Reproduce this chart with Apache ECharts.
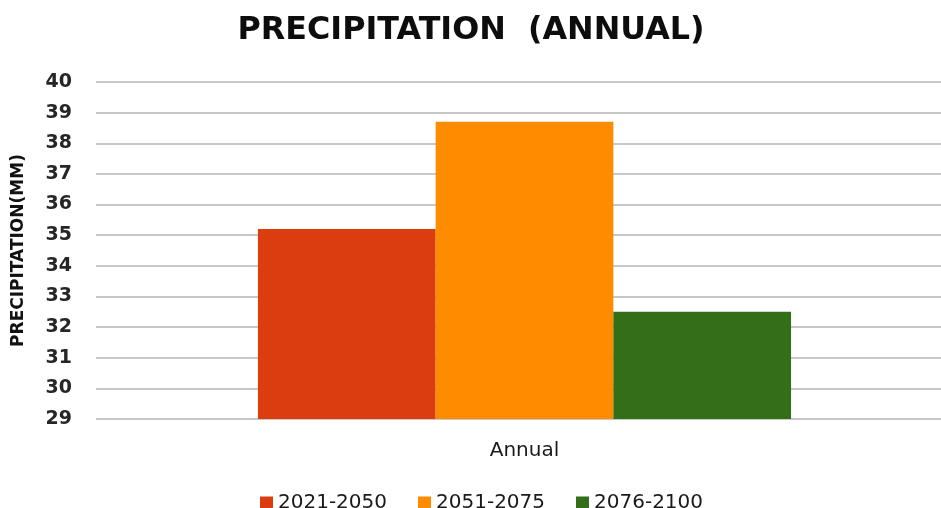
<!DOCTYPE html>
<html><head><meta charset="utf-8">
<script src="https://cdn.jsdelivr.net/npm/echarts@6/dist/echarts.min.js"></script>
<style>html,body{margin:0;padding:0;background:#fff}#c{width:941px;height:508px}</style>
</head><body><div id="c"></div>
<script>
var categories = ['Annual'];
var seriesNames = ['2021-2050', '2051-2075', '2076-2100'];
var values2021 = [35.2];
var values2051 = [38.7];
var values2076 = [32.5];
var yMin = 29, yMax = 40, yStep = 1;
var colors = ['#DC3D0F', '#FF8B00', '#326F18'];

var chart = echarts.init(document.getElementById('c'));
var font = '"DejaVu Sans", "Noto Sans", sans-serif';
chart.setOption({
  animation: false,
  title: {
    text: 'PRECIPITATION  (ANNUAL)', left: 466, top: 10, textAlign: 'center',
    textStyle: {fontFamily: font, fontWeight: 'bold', fontSize: 31.8, color: '#0d0d0d'}
  },
  legend: {
    top: 488, left: 255, itemWidth: 13, itemHeight: 13, itemGap: 31,
    icon: 'rect',
    textStyle: {fontFamily: font, fontSize: 20, color: '#1a1a1a'},
    data: seriesNames
  },
  grid: [
    {left: 96, top: 82, right: 0, height: 337},
    {left: 108, top: 82, right: 0, height: 337}
  ],
  xAxis: [
    {gridIndex: 0, type: 'category', data: categories, show: false},
    {gridIndex: 1, type: 'category', data: categories,
     axisLine: {show: false}, axisTick: {show: false},
     axisLabel: {fontFamily: font, fontSize: 20, color: '#1a1a1a', margin: 22}}
  ],
  yAxis: [
    {gridIndex: 0, type: 'value', min: yMin, max: yMax, interval: yStep,
     name: 'PRECIPITATION(MM)', nameLocation: 'middle', nameGap: 69, nameRotate: 90,
     nameTextStyle: {fontFamily: font, fontWeight: 'bold', fontSize: 17, color: '#111'},
     axisLine: {show: false}, axisTick: {show: false},
     axisLabel: {fontFamily: font, fontWeight: 'bold', fontSize: 19, color: '#262626', margin: 24},
     splitLine: {lineStyle: {color: '#c8c8c8', width: 2}}},
    {gridIndex: 1, type: 'value', min: yMin, max: yMax, interval: yStep, show: false,
     splitLine: {show: false}}
  ],
  series: [
    {name: seriesNames[0], type: 'bar', xAxisIndex: 1, yAxisIndex: 1, data: values2021, itemStyle: {color: colors[0]}, barGap: '0%', barCategoryGap: '36%'},
    {name: seriesNames[1], type: 'bar', xAxisIndex: 1, yAxisIndex: 1, data: values2051, itemStyle: {color: colors[1]}, barGap: '0%', barCategoryGap: '36%'},
    {name: seriesNames[2], type: 'bar', xAxisIndex: 1, yAxisIndex: 1, data: values2076, itemStyle: {color: colors[2]}, barGap: '0%', barCategoryGap: '36%'}
  ]
});
</script></body></html>
